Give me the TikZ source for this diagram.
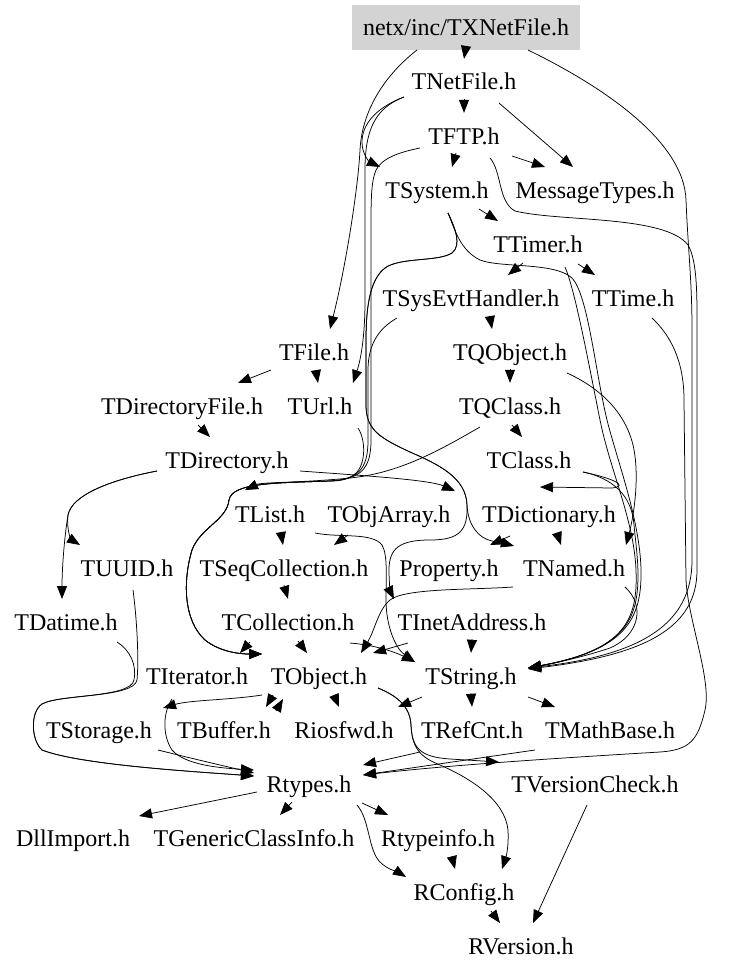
\documentclass[tikz,border=0pt]{standalone}
\usepackage{fontspec}
\setmainfont{Liberation Serif}
\usetikzlibrary{arrows.meta,calc}
\definecolor{boxgray}{RGB}{211,211,211}
\begin{document}
\begin{tikzpicture}[x=1pt,y=-1pt,
  hdr/.style={inner xsep=9pt,inner ysep=0pt,minimum height=46pt,text height=19pt,text depth=3pt,font=\fontsize{24}{28}\selectfont},
  root/.style={hdr,fill=boxgray,minimum width=228pt,minimum height=45pt},
  e/.style={draw=black,line width=0.75pt,-{Triangle[length=13pt,width=10pt]}}]
\useasboundingbox (0,0) rectangle (745,971);
% nodes
\node[root] (txn) at (466,27.5) {netx/inc/TXNetFile.h};
\node[hdr] (netfile) at (464,82) {TNetFile.h};
\node[hdr] (ftp) at (464,136) {TFTP.h};
\node[hdr] (system) at (437,190) {TSystem.h};
\node[hdr] (msg) at (595,190) {MessageTypes.h};
\node[hdr] (timer) at (538,244) {TTimer.h};
\node[hdr] (sysevt) at (471,298) {TSysEvtHandler.h};
\node[hdr] (time) at (633,298) {TTime.h};
\node[hdr] (file) at (314,352) {TFile.h};
\node[hdr] (qobject) at (510,352) {TQObject.h};
\node[hdr] (dirfile) at (182,406) {TDirectoryFile.h};
\node[hdr] (url) at (320,406) {TUrl.h};
\node[hdr] (qclass) at (510,406) {TQClass.h};
\node[hdr] (dir) at (227,460) {TDirectory.h};
\node[hdr] (class) at (529,460) {TClass.h};
\node[hdr] (list) at (270,514) {TList.h};
\node[hdr] (objarray) at (389,514) {TObjArray.h};
\node[hdr] (dict) at (549,514) {TDictionary.h};
\node[hdr] (uuid) at (127,568) {TUUID.h};
\node[hdr] (seqcoll) at (284,568) {TSeqCollection.h};
\node[hdr] (property) at (449,568) {Property.h};
\node[hdr] (named) at (574,568) {TNamed.h};
\node[hdr] (datime) at (66,622) {TDatime.h};
\node[hdr] (coll) at (288,622) {TCollection.h};
\node[hdr] (inet) at (472,622) {TInetAddress.h};
\node[hdr] (iter) at (197,676) {TIterator.h};
\node[hdr] (object) at (319,676) {TObject.h};
\node[hdr] (string) at (471,676) {TString.h};
\node[hdr] (storage) at (99,730) {TStorage.h};
\node[hdr] (buffer) at (224,730) {TBuffer.h};
\node[hdr] (riosfwd) at (344,730) {Riosfwd.h};
\node[hdr] (refcnt) at (472,730) {TRefCnt.h};
\node[hdr] (mathbase) at (610,730) {TMathBase.h};
\node[hdr] (rtypes) at (309,784) {Rtypes.h};
\node[hdr] (vcheck) at (595,784) {TVersionCheck.h};
\node[hdr] (dllimport) at (73,838) {DllImport.h};
\node[hdr] (genclass) at (254,838) {TGenericClassInfo.h};
\node[hdr] (rtypeinfo) at (438,838) {Rtypeinfo.h};
\node[hdr] (rconfig) at (464,892) {RConfig.h};
\node[hdr] (rversion) at (521,946) {RVersion.h};
% top edges
\draw[e] ($(txn.south)+(0,-4)$) -- (netfile.north);
\draw[e] ($(txn)+(-49,22.5)$) .. controls (385,75) and (362,110) .. (360,150) .. controls (358,190) and (345,270) .. ($(file)+(16,-23)$);
\draw[e] ($(txn)+(62,22.5)$) .. controls (600,85) and (684,140) .. (686,200) .. controls (688,250) and (692,280) .. (692,330) -- (692,560) .. controls (692,625) and (640,655) .. ($(string)+(57,-8)$);
\draw[e] ($(netfile.south)+(0,-6)$) -- (ftp.north);
\draw[e] ($(netfile)+(35,21)$) -- ($(msg)+(-22,-23)$);
\draw[e] ($(netfile)+(-60,15)$) .. controls (375,108) and (362,125) .. (362,142) .. controls (362,155) and (370,162) .. ($(system)+(-57,-23)$);
\draw[e] ($(netfile)+(-60,15)$) .. controls (375,108) and (365,130) .. (365,170) -- (365,300) .. controls (365,340) and (360,362) .. ($(url)+(33,-23)$);
\draw[e] ($(ftp)+(-8,17)$) -- ($(system)+(15,-23)$);
\draw[e] ($(ftp)+(48,20)$) -- ($(msg)+(-50,-23)$);
\draw[e] ($(ftp)+(26,22)$) .. controls (502,172) and (498,202) .. (515,211) .. controls (560,222) and (665,215) .. (688,245) .. controls (698,262) and (697,300) .. (697,340) -- (697,570) .. controls (697,628) and (645,655) .. ($(string)+(57,-7)$);
% long left route into TObject
\draw[e] ($(ftp)+(-44,12)$) .. controls (400,152) and (382,158) .. (376,170) .. controls (371,182) and (371,200) .. (371,230) -- (371,440) .. controls (371,470) and (360,479) .. (330,481) .. controls (280,483) and (232,482) .. (229,500) .. controls (227,520) and (200,528) .. (192,550) .. controls (183,580) and (183,620) .. (205,640) .. controls (220,652) and (240,654) .. ($(object)+(-57,-22)$);
\draw[e] ($(sysevt)+(-74,20)$) .. controls (383,326) and (368,340) .. (368,370) -- (368,440) .. controls (368,470) and (358,479) .. (330,481) .. controls (280,483) and (232,482) .. (229,500) .. controls (227,520) and (200,528) .. (192,550) .. controls (183,580) and (183,620) .. (205,640) .. controls (220,652) and (240,654) .. ($(object)+(-57,-22)$);
\draw[e] ($(url)+(38,22)$) .. controls (366,440) and (366,465) .. (355,474) .. controls (347,480) and (340,481) .. (330,481) .. controls (280,483) and (232,482) .. (229,500) .. controls (227,520) and (200,528) .. (192,550) .. controls (183,580) and (183,620) .. (205,640) .. controls (220,652) and (240,654) .. ($(object)+(-57,-22)$);
% TSystem
\draw[e] ($(system)+(42,19)$) -- ($(timer)+(-40,-23)$);
\draw[e] ($(system)+(11,23)$) .. controls (455,230) and (460,250) .. (480,260) .. controls (500,268) and (555,262) .. (572,278) .. controls (588,295) and (595,370) .. (607,420) .. controls (617,460) and (640,520) .. (641,570) .. controls (642,620) and (625,650) .. ($(string)+(57,-8)$);
\draw[e] ($(system)+(11,23)$) .. controls (455,228) and (462,245) .. (452,253) .. controls (438,262) and (400,257) .. (385,268) .. controls (372,278) and (366,300) .. (366,340) -- (366,405) .. controls (366,430) and (380,438) .. (410,452) .. controls (440,465) and (466,478) .. (467,505) .. controls (468,530) and (460,540) .. (430,540) .. controls (400,540) and (389,548) .. (389,570) .. controls (389,585) and (391,593) .. ($(inet)+(-78,-23)$);
\draw[e] ($(system)+(11,23)$) .. controls (455,228) and (462,245) .. (452,253) .. controls (438,262) and (400,257) .. (385,268) .. controls (372,278) and (366,300) .. (366,340) -- (366,405) .. controls (366,430) and (380,438) .. (410,452) .. controls (440,465) and (466,478) .. (467,505) .. controls (468,525) and (478,538) .. (492,541) .. controls (500,543) and (507,544) .. ($(named)+(-60,-22)$);
% TTimer
\draw[e] ($(timer)+(-15,19)$) -- ($(sysevt)+(37,-23)$);
\draw[e] ($(timer)+(40,20)$) -- ($(time)+(-38,-23)$);
\draw[e] ($(timer)+(27,23)$) .. controls (575,290) and (588,360) .. (600,420) .. controls (610,470) and (634,520) .. (636,570) .. controls (638,620) and (625,650) .. ($(string)+(57,-8)$);
\draw[e] ($(sysevt)+(19,19)$) -- ($(qobject)+(-18,-23)$);
% TFile
\draw[e] ($(file)+(-43,18)$) -- ($(dirfile)+(56,-23)$);
\draw[e] ($(file)+(2,19)$) -- ($(url)+(-2,-23)$);
% TQObject, TQClass
\draw[e] ($(qobject.south)+(0,-6)$) -- (qclass.north);
\draw[e] ($(qobject)+(57,21)$) .. controls (600,388) and (625,412) .. (633,445) .. controls (640,475) and (634,515) .. ($(named)+(52,-23)$);
\draw[e] ($(qclass)+(2,19)$) -- ($(class)+(-7,-23)$);
\draw[e] ($(qclass)+(-30,21)$) .. controls (440,450) and (400,473) .. (350,478) .. controls (300,483) and (262,482) .. ($(list)+(-25,-24)$);
% TDirectory
\draw[e] ($(dirfile)+(16,19)$) -- ($(dir)+(-17,-23)$);
\draw[e] ($(dir)+(-70,11)$) .. controls (110,480) and (72,495) .. (68,515) .. controls (66,530) and (72,540) .. ($(uuid)+(-47,-23)$);
\draw[e] ($(dir)+(-70,11)$) .. controls (110,480) and (72,495) .. (68,515) .. controls (64,540) and (62,570) .. ($(datime)+(-4,-23)$);
\draw[e] ($(dir)+(73,11)$) .. controls (370,476) and (430,480) .. ($(objarray)+(66,-23)$);
% TClass
\draw[e] ($(class)+(54,12)$) .. controls (612,478) and (630,486) .. (612,488) -- ($(dict)+(-9,-27)$);
\draw[e] ($(class)+(54,12)$) .. controls (612,478) and (632,495) .. (634,525) .. controls (636,545) and (638,560) .. (638,575) .. controls (638,620) and (625,650) .. ($(string)+(57,-8)$);
% collections
\draw[e] ($(list)+(11,19)$) -- ($(seqcoll)+(-1,-23)$);
\draw[e] ($(objarray)+(-41,21)$) -- ($(seqcoll)+(50,-23)$);
\draw[e] ($(list)+(45,19)$) .. controls (340,538) and (372,532) .. (382,545) .. controls (388,555) and (386,580) .. (386,600) .. controls (386,625) and (395,648) .. ($(string)+(-56,-14)$);
\draw[e] ($(seqcoll.south)+(0,-6)$) -- (coll.north);
\draw[e] ($(dict)+(8,19)$) -- ($(named)+(-13,-23)$);
\draw[e] ($(dict)+(-39,22)$) -- ($(property)+(41,-23)$);
\draw[e] ($(coll)+(-38,20)$) -- ($(iter)+(43,-23)$);
\draw[e] ($(coll)+(10,19)$) -- ($(object)+(-12,-23)$);
\draw[e] ($(coll)+(62,21)$) .. controls (375,645) and (395,652) .. ($(string)+(-56,-14)$);
\draw[e] ($(inet)+(-64,21)$) -- ($(object)+(54,-23)$);
\draw[e] ($(inet.south)+(0,-6)$) -- (string.north);
\draw[e] ($(named)+(-61,19)$) .. controls (470,590) and (405,588) .. (390,600) .. controls (378,610) and (375,630) .. ($(object)+(42,-23)$);
\draw[e] ($(named)+(51,19)$) .. controls (645,605) and (640,635) .. (610,648) .. controls (580,658) and (550,664) .. ($(string)+(57,-8)$);
% left side into Rtypes
\draw[e] ($(datime)+(51,20)$) .. controls (130,650) and (137,665) .. (134,680) .. controls (131,698) and (60,694) .. (42,704) .. controls (30,712) and (31,740) .. (42,750) .. controls (80,765) and (200,772) .. ($(rtypes)+(-55,-8)$);
\draw[e] ($(uuid)+(6,22)$) .. controls (137,620) and (139,660) .. (137,680) .. controls (134,698) and (60,694) .. (42,704) .. controls (30,712) and (31,740) .. (42,750) .. controls (80,765) and (200,772) .. ($(rtypes)+(-55,-8)$);
\draw[e] ($(iter)+(-25,23)$) .. controls (163,712) and (162,735) .. (172,750) .. controls (185,765) and (220,768) .. ($(rtypes)+(-55,-14)$);
\draw[e] ($(storage)+(59,20)$) .. controls (190,758) and (220,765) .. ($(rtypes)+(-55,-11)$);
% TObject
\draw[e] ($(object)+(-57,19)$) .. controls (230,700) and (190,700) .. ($(storage)+(64,-22)$);
\draw[e] ($(object)+(-46,19)$) -- ($(buffer)+(42,-23)$);
\draw[e] ($(buffer)+(52,-19)$) -- ($(object)+(-36,23)$);
\draw[e] ($(object)+(15,19)$) -- ($(riosfwd)+(-5,-23)$);
\draw[e] ($(object)+(59,12)$) .. controls (395,695) and (410,705) .. (411,725) .. controls (412,748) and (420,757) .. (440,765) .. controls (470,778) and (505,800) .. (508,830) .. controls (509,850) and (505,860) .. ($(rconfig)+(38,-23)$);
\draw[e] ($(object)+(59,12)$) .. controls (395,695) and (410,705) .. (411,725) .. controls (412,748) and (420,757) .. (450,759) -- ($(vcheck)+(-96,-22)$);
% TString
\draw[e] ($(string)+(-49,21)$) -- ($(riosfwd)+(54,-23)$);
\draw[e] ($(string.south)+(0,-6)$) -- (refcnt.north);
\draw[e] ($(string)+(57,21)$) -- ($(mathbase)+(-55,-23)$);
% into Rtypes from right
\draw[e] ($(refcnt)+(-52,22)$) -- ($(rtypes)+(54,-19)$);
\draw[e] ($(mathbase)+(-75,20)$) -- ($(rtypes)+(54,-9)$);
\draw[e] ($(time)+(19,20)$) .. controls (670,335) and (684,360) .. (684,400) -- (686,580) .. controls (688,620) and (712,680) .. (705,710) .. controls (698,740) and (690,750) .. (660,752) .. controls (560,758) and (450,765) .. ($(rtypes)+(54,-9)$);
% Rtypes
\draw[e] ($(rtypes)+(-52,8)$) -- ($(dllimport)+(66,-22)$);
\draw[e] ($(rtypes)+(-17,18)$) -- ($(genclass)+(26,-23)$);
\draw[e] ($(rtypes)+(53,19)$) -- ($(rtypeinfo)+(-50,-23)$);
\draw[e] ($(rtypes)+(48,21)$) .. controls (370,820) and (368,850) .. (380,862) .. controls (388,870) and (398,872) .. ($(rconfig)+(-58,-15)$);
\draw[e] ($(rtypeinfo)+(14,19)$) -- ($(rconfig)+(-9,-23)$);
\draw[e] ($(rconfig)+(27,19)$) -- ($(rversion)+(-21,-23)$);
\draw[e] ($(vcheck)+(-8,21)$) -- ($(rversion)+(12,-23)$);
\end{tikzpicture}
\end{document}
